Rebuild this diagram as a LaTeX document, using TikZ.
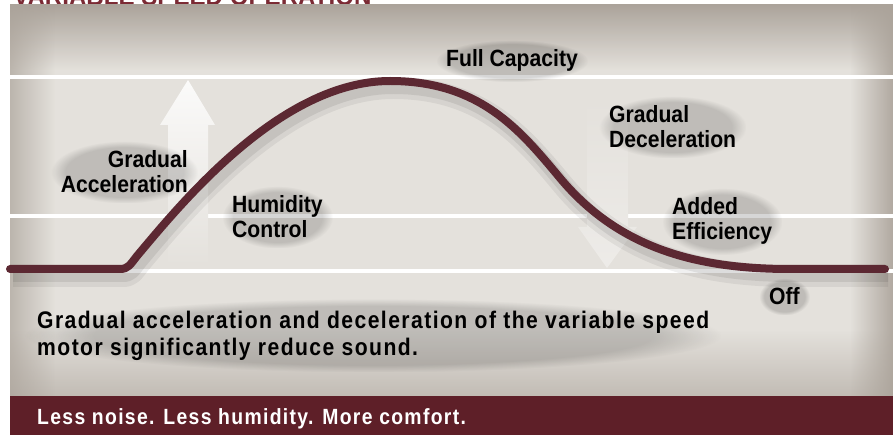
\documentclass[tikz,border=0pt]{standalone}
\usepackage{fontspec}
\setmainfont{Liberation Sans}
\newfontfamily\labelFont{Liberation Sans}[FakeStretch=0.9]
\newfontfamily\noteFont{Liberation Sans}[FakeStretch=0.88,LetterSpace=6]
\usetikzlibrary{fadings}

\definecolor{panelLight}{HTML}{E4E1DC}
\definecolor{panelDark}{HTML}{ABA39A}
\definecolor{curveRed}{HTML}{5C2832}
\definecolor{bandRed}{HTML}{5E1F28}
\definecolor{titleRed}{HTML}{7B2A34}

\begin{document}
\begin{tikzpicture}[x=1pt,y=-1pt,
  softHalo/.style={preaction={fill=black, fill opacity=0.16, path fading=circle with fuzzy edge 20 percent}},
  stageLabel/.style={font=\labelFont\bfseries\fontsize{23.5}{25}\selectfont, inner sep=10pt, align=left, softHalo},
  gridLine/.style={white, line width=3.5pt},
  speedCurve/.style={curveRed, line width=8pt, line cap=round, line join=round}]
% Parameters
\def\panelL{10};
\def\panelR{893};
\def\panelTop{4};
\def\panelBot{396};
\def\curvePath{(10,269) -- (120,269) .. controls (128,269) and (130,265) .. (137,256)
  .. controls (180,205) and (280,81) .. (390,81)
  .. controls (480,81) and (520,130) .. (560,178)
  .. controls (620,250) and (700,269) .. (790,269) -- (885,269)}

\useasboundingbox (0,0) rectangle (893,435);

% Title (cut off at the top)
\node[anchor=base west, inner sep=0pt, text=titleRed,
  font=\labelFont\bfseries\fontsize{26.8}{28}\selectfont] (title) at (13,6) {VARIABLE SPEED OPERATION};

% Panel
\fill[panelLight] (\panelL,\panelTop) rectangle (\panelR,\panelBot);
\fill[panelDark, path fading=south] (\panelL,\panelTop) rectangle (\panelR,70);
\fill[panelDark, path fading=north, opacity=0.6] (\panelL,330) rectangle (\panelR,\panelBot);
\fill[panelDark, path fading=east, opacity=0.7] (\panelL,\panelTop) rectangle (55,\panelBot);
\fill[panelDark, path fading=west, opacity=0.9] (850,\panelTop) rectangle (\panelR,\panelBot);

% Grid lines
\foreach \lineY in {77,216,271}
{
\draw[gridLine] (\panelL,\lineY) -- (\panelR,\lineY);
}

% Arrows
\shade[top color=white!85!panelLight, bottom color=panelLight]
  (188,80) -- (215,125) -- (208,125) -- (208,265) -- (168,265) -- (168,125) -- (160,125) -- cycle; % up
\shade[top color=panelLight, bottom color=white!35!panelLight]
  (587,100) -- (628,100) -- (628,227) -- (637,227) -- (607,268) -- (578,227) -- (587,227) -- cycle; % down

% Curve
\draw[black, opacity=0.06, line width=22pt, line join=round, shift={(3,7)}] \curvePath;
\draw[black, opacity=0.08, line width=14pt, line join=round, shift={(3,6)}] \curvePath;
\draw[speedCurve] \curvePath;

% Stage labels (anchor on the last line, 10pt inner sep)
\node[stageLabel, anchor=base west] (fullCap) at (436,67) {Full Capacity};
\node[stageLabel, anchor=base east, align=right] (accelLabel) at (198,193) {Gradual\\Acceleration};
\node[stageLabel, anchor=base west] (humidLabel) at (222,238) {Humidity\\Control};
\node[stageLabel, anchor=base west] (decelLabel) at (599,148) {Gradual\\Deceleration};
\node[stageLabel, anchor=base west] (effLabel) at (662,240) {Added\\Efficiency};
\node[stageLabel, anchor=base west] (offLabel) at (759,305) {Off};

% Note
\node[softHalo, anchor=base west, inner sep=12pt, align=left,
  font=\noteFont\bfseries\fontsize{24}{27}\selectfont] (noteText) at (25,355)
  {Gradual acceleration and deceleration of the variable speed\\motor significantly reduce sound.};

% Band
\fill[bandRed] (\panelL,\panelBot) rectangle (\panelR,435);
\node[anchor=base west, inner sep=0pt, text=white,
  font=\noteFont\bfseries\fontsize{22}{23}\selectfont] (bandText) at (37,424)
  {Less noise. Less humidity. More comfort.};

\end{tikzpicture}
\end{document}
